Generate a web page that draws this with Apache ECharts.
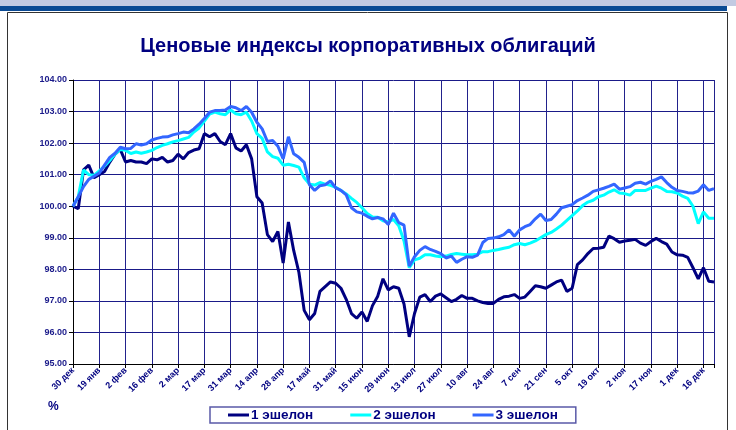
<!DOCTYPE html>
<html>
<head>
<meta charset="utf-8">
<script src="https://cdn.jsdelivr.net/npm/echarts@6/dist/echarts.min.js"></script>
<style>
  html, body { margin: 0; padding: 0; background: #fff; }
  #chart { width: 736px; height: 430px; }
</style>
</head>
<body>
<div id="chart"></div>
<script>
// tick labels, one every 5 points (points are ~2 trading days apart)
const tickLabels = ["30 дек", "19 янв", "2 фев", "16 фев", "2 мар", "17 мар", "31 мар", "14 апр",
  "28 апр", "17 май", "31 май", "15 июн", "29 июн", "13 июл", "27 июл", "10 авг", "24 авг",
  "7 сен", "21 сен", "5 окт", "19 окт", "2 ноя", "17 ноя", "1 дек", "16 дек"];

const seriesNames = ["1 эшелон", "2 эшелон", "3 эшелон"];

const tier1 = [100.0, 99.92, 101.15, 101.3, 100.9, 101.0, 101.1, 101.4, 101.65, 101.8,
  101.4, 101.45, 101.4, 101.4, 101.35, 101.5, 101.47, 101.55, 101.4, 101.45,
  101.65, 101.5, 101.7, 101.78, 101.82, 102.3, 102.2, 102.3, 102.05, 101.95,
  102.3, 101.85, 101.75, 101.95, 101.5, 100.3, 100.1, 99.1, 98.88, 99.2,
  98.2, 99.5, 98.6, 97.9, 96.7, 96.4, 96.6, 97.3, 97.45, 97.6,
  97.56, 97.4, 97.05, 96.6, 96.45, 96.65, 96.35, 96.85, 97.15, 97.7,
  97.35, 97.45, 97.4, 96.9, 95.86, 96.6, 97.12, 97.2, 96.98, 97.15,
  97.22, 97.1, 96.98, 97.05, 97.17, 97.08, 97.08, 97.0, 96.95, 96.92,
  96.92, 97.05, 97.13, 97.15, 97.2, 97.08, 97.12, 97.3, 97.48, 97.45,
  97.4, 97.5, 97.6, 97.66, 97.3, 97.4, 98.15, 98.3, 98.5, 98.66,
  98.67, 98.7, 99.05, 98.97, 98.86, 98.9, 98.92, 98.95, 98.83, 98.76,
  98.88, 98.98, 98.88, 98.8, 98.55, 98.46, 98.45, 98.38, 98.05, 97.7,
  98.05, 97.62, 97.6];

const tier2 = [100.0, 100.3, 101.15, 101.0, 100.98, 101.12, 101.27, 101.45, 101.65, 101.8,
  101.77, 101.67, 101.72, 101.68, 101.72, 101.77, 101.86, 101.93, 101.98, 102.04,
  102.08, 102.13, 102.18, 102.35, 102.48, 102.7, 102.92, 102.98, 102.93, 102.9,
  103.05, 102.93, 102.9, 102.98, 102.7, 102.3, 102.15, 101.72, 101.57, 101.52,
  101.3, 101.33, 101.29, 101.24, 100.9, 100.7, 100.67, 100.75, 100.7, 100.66,
  100.6, 100.5, 100.39, 100.25, 100.12, 99.95, 99.77, 99.66, 99.65, 99.54,
  99.5, 99.58, 99.38, 98.9, 98.05, 98.3, 98.35, 98.46, 98.46, 98.42,
  98.4, 98.42, 98.47, 98.5, 98.48, 98.46, 98.46, 98.48, 98.56, 98.56,
  98.6, 98.63, 98.67, 98.7, 98.78, 98.82, 98.78, 98.83, 98.9, 99.0,
  99.1, 99.17, 99.28, 99.4, 99.55, 99.7, 99.85, 100.02, 100.13, 100.19,
  100.3, 100.35, 100.45, 100.52, 100.42, 100.4, 100.35, 100.5, 100.5, 100.5,
  100.57, 100.64, 100.57, 100.47, 100.46, 100.42, 100.32, 100.25, 100.0, 99.45,
  99.82, 99.62, 99.62];

const tier3 = [100.0, 100.3, 100.62, 100.85, 100.95, 101.05, 101.3, 101.55, 101.68, 101.87,
  101.82, 101.83, 101.98, 101.94, 101.98, 102.1, 102.15, 102.19, 102.2, 102.26,
  102.3, 102.35, 102.33, 102.45, 102.6, 102.78, 102.98, 103.03, 103.03, 103.05,
  103.16, 103.12, 103.03, 103.16, 102.98, 102.66, 102.45, 102.05, 102.08, 101.9,
  101.5, 102.2, 101.66, 101.55, 101.39, 100.68, 100.5, 100.65, 100.68, 100.8,
  100.58, 100.5, 100.36, 99.95, 99.82, 99.78, 99.68, 99.6, 99.64, 99.6,
  99.42, 99.78, 99.48, 99.4, 98.1, 98.4, 98.6, 98.72, 98.63, 98.57,
  98.5, 98.36, 98.42, 98.22, 98.32, 98.4, 98.38, 98.45, 98.85, 98.98,
  98.99, 99.03, 99.1, 99.25, 99.05, 99.25, 99.35, 99.42, 99.6, 99.75,
  99.55, 99.58, 99.75, 99.95, 100.0, 100.05, 100.18, 100.26, 100.35, 100.47,
  100.52, 100.57, 100.63, 100.7, 100.54, 100.58, 100.62, 100.73, 100.76, 100.7,
  100.79, 100.85, 100.93, 100.75, 100.6, 100.5, 100.47, 100.43, 100.42, 100.48,
  100.68, 100.5, 100.56];

const colors = ["#000080", "#00ffff", "#3366ff"];
const navy = "#000080";
const font = "Arial, 'Liberation Sans', sans-serif";

const chart = echarts.init(document.getElementById("chart"));

const toPoints = (arr) => arr.map((v, i) => [i, v]);

chart.setOption({
  animation: false,
  backgroundColor: "#fff",
  textStyle: { fontFamily: font },
  title: {
    text: "Ценовые индексы корпоративных облигаций",
    left: "center",
    top: 31,
    textStyle: { color: navy, fontSize: 20, fontWeight: "bold", fontFamily: font }
  },
  graphic: [
    { type: "rect", shape: { x: 0, y: 0, width: 736, height: 6 }, style: { fill: "#c3cae2" }, silent: true },
    { type: "rect", shape: { x: 0, y: 6, width: 727, height: 5 }, style: { fill: "#0b4a94" }, silent: true },
    { type: "rect", shape: { x: 7.5, y: 12.5, width: 720, height: 430 }, style: { fill: null, stroke: "#333", lineWidth: 1 }, silent: true },
    { type: "text", left: 48, top: 401, style: { text: "%", fill: navy, font: "bold 12px " + font } }
  ],
  legend: {
    data: seriesNames.map((n) => ({ name: n, icon: "rect" })),
    left: 210,
    top: 407,
    padding: [1, 18, 1, 18],
    itemGap: 37,
    itemWidth: 21,
    itemHeight: 3,
    borderColor: "#5a5aa8",
    borderWidth: 1.5,
    textStyle: { color: navy, fontSize: 13.5, fontWeight: "bold", fontFamily: font, padding: [0, 0, 0, -3] }
  },
  grid: { left: 73, top: 80, width: 641, height: 284, containLabel: false },
  xAxis: {
    type: "value",
    min: 0,
    max: 122,
    interval: 5,
    axisLine: { show: true, onZero: false, lineStyle: { color: "#000", width: 1 } },
    axisTick: { show: true, length: 4, lineStyle: { color: "#000" } },
    axisLabel: {
      rotate: 45,
      margin: 5,
      color: navy,
      fontSize: 9,
      fontWeight: "bold",
      fontFamily: font,
      formatter: (v) => (v % 5 === 0 && tickLabels[v / 5]) ? tickLabels[v / 5] : ""
    },
    splitLine: { show: true, lineStyle: { color: "#22228c", width: 1 } }
  },
  yAxis: {
    type: "value",
    min: 95,
    max: 104,
    interval: 1,
    axisLine: { show: true, lineStyle: { color: "#000", width: 1 } },
    axisTick: { show: true, length: 4, lineStyle: { color: "#000" } },
    axisLabel: {
      color: "#1a1a8a",
      fontSize: 9,
      fontWeight: "bold",
      fontFamily: font,
      margin: 6,
      formatter: (v) => v.toFixed(2)
    },
    splitLine: { show: true, lineStyle: { color: "#1a1a88", width: 1 } }
  },
  series: [tier1, tier2, tier3].map((arr, i) => ({
    name: seriesNames[i],
    type: "line",
    data: toPoints(arr),
    showSymbol: false,
    symbol: "none",
    color: colors[i],
    lineStyle: { color: colors[i], width: 3 },
    z: 2 + i
  }))
});
</script>
</body>
</html>
